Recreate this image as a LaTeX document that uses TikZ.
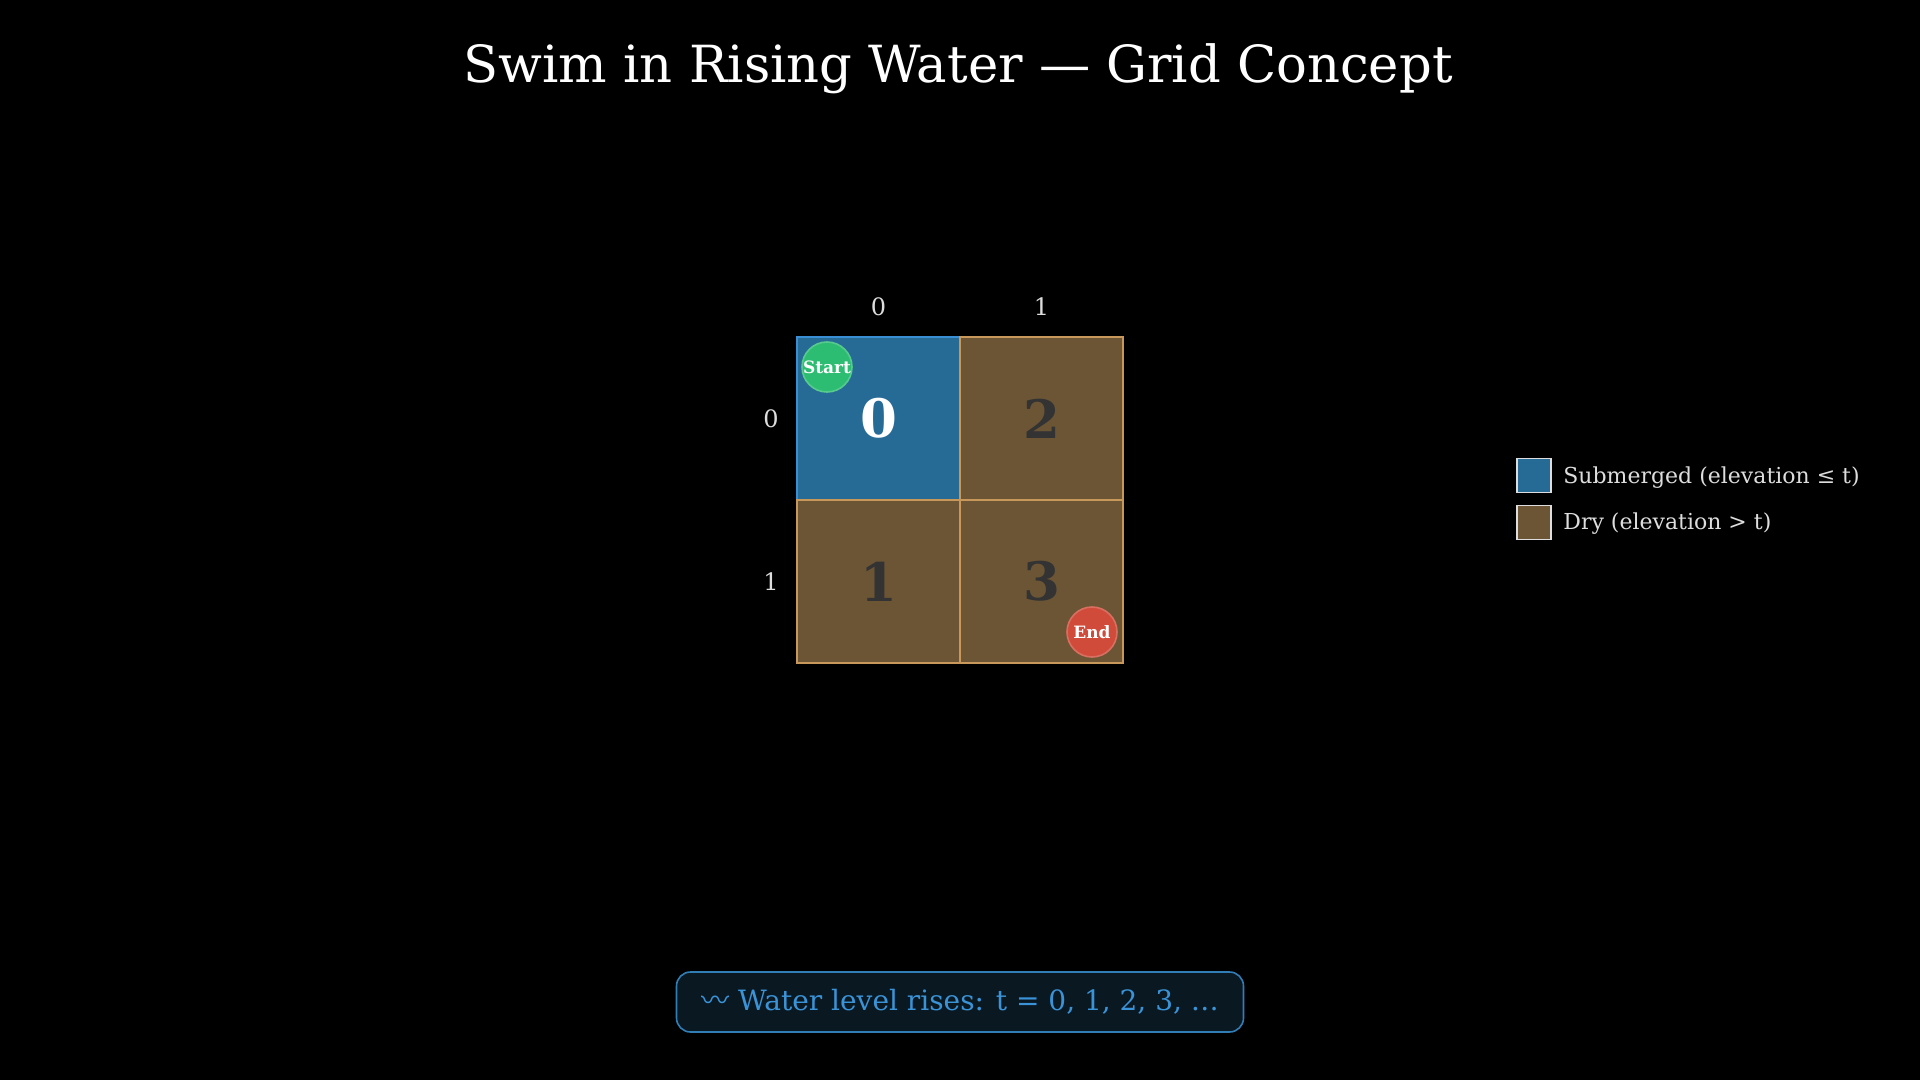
\documentclass[tikz,border=0pt]{standalone}
\usepackage{fontspec}
\setmainfont{DejaVu Serif}
\newfontfamily\cjk{Noto Sans CJK SC}
\definecolor{water}{HTML}{266A96}
\definecolor{waterline}{HTML}{3A8FD4}
\definecolor{dry}{HTML}{6B5535}
\definecolor{sand}{HTML}{C8975A}
\definecolor{ink}{HTML}{333333}
\definecolor{startgreen}{HTML}{2DBD72}
\definecolor{endred}{HTML}{D04B3A}
\definecolor{pale}{HTML}{DDDDDD}
\definecolor{levelblue}{HTML}{3A93D6}
\definecolor{levelfill}{HTML}{0A1822}
\begin{document}
\begin{tikzpicture}[x=0.5pt,y=-0.5pt,
  cell/.style={draw=sand, fill=dry, text=ink, line width=1.2pt, minimum size=81.5pt, inner sep=0pt,
    font=\bfseries\fontsize{26.5}{30}\selectfont},
  marker/.style={circle, line width=0.8pt, minimum size=25pt, inner sep=0pt, text=white,
    font=\bfseries\fontsize{8.5}{10}\selectfont},
  axis/.style={text=pale, font=\fontsize{12}{14}\selectfont},
  key/.style={draw=pale, line width=0.8pt, minimum size=17pt, inner sep=0pt},
  keytext/.style={anchor=base west, text=pale, font=\fontsize{11}{13}\selectfont, inner sep=0pt}]
 \fill[black] (0,0) rectangle (1920,1080);
 \useasboundingbox (0,0) rectangle (1920,1080);
 \node[anchor=base, text=white, font=\fontsize{25.6}{31}\selectfont] (title) at (958,83) {Swim in Rising Water — Grid Concept};
 %
 \node[cell, fill=water, draw=waterline, text=white] (c00) at (878.5,418.5) {0};
 \node[cell] (c01) at (1041.5,418.5) {2};
 \node[cell] (c10) at (878.5,581.5) {1};
 \node[cell] (c11) at (1041.5,581.5) {3};
 %
 \node[axis] (col0) at (878.5,307) {0};
 \node[axis] (col1) at (1041.5,307) {1};
 \node[axis] (row0) at (771,418.5) {0};
 \node[axis] (row1) at (771,581.5) {1};
 %
 \node[marker, fill=startgreen, draw=startgreen!80!white] (start) at (827,367) {Start};
 \node[marker, fill=endred, draw=endred!80!white] (end) at (1092,632) {End};
 % legend
 \node[key, fill=water] (keywet) at (1534,475.5) {};
 \node[keytext] (keywettext) at (1563,483) {Submerged (elevation ≤ t)};
 \node[key, fill=dry] (keydry) at (1534,522.5) {};
 \node[keytext] (keydrytext) at (1563,529) {Dry (elevation > t)};
 %
 \node[draw=levelblue!85!black, fill=levelfill, line width=0.8pt, rounded corners=7pt,
   minimum width=283.5pt, minimum height=30pt, text=levelblue, font=\fontsize{14}{17}\selectfont]
   (level) at (960,1002) {{\cjk 〰} Water level rises: t = 0, 1, 2, 3, …};
\end{tikzpicture}
\end{document}
